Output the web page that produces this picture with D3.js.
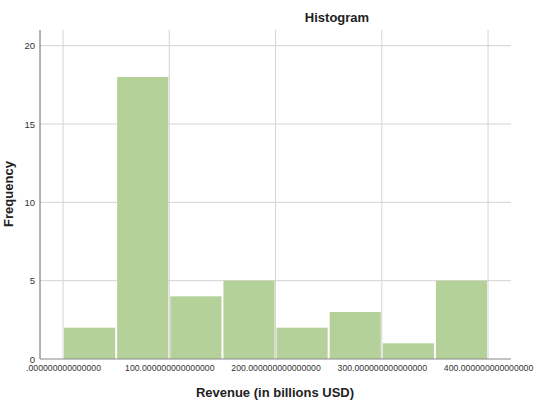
<!DOCTYPE html>
<html><head><meta charset="utf-8">
<script src="https://cdn.jsdelivr.net/npm/d3@7"></script>
<style>body{margin:0;background:#fff;} text{font-family:Arial,"Liberation Sans",sans-serif;}</style>
</head><body>
<svg id="c" width="536" height="412"></svg>
<script>
const binStarts = [0, 50, 100, 150, 200, 250, 300, 350];
const binWidth = 50;
const counts = [2, 18, 4, 5, 2, 3, 1, 5];
const xTicks = [0, 100, 200, 300, 400];
const xTickLabels = [".000000000000000", "100.000000000000000", "200.000000000000000", "300.000000000000000", "400.000000000000000"];
const yTicks = [0, 5, 10, 15, 20];

const svg = d3.select("#c");
const L = 40, R = 511, T = 30, B = 359;
const x = d3.scaleLinear().domain([-21.7, 421.6]).range([L, R]);
const y = d3.scaleLinear().domain([0, 21]).range([B, T]);

// grid
svg.append("g").selectAll("line").data(yTicks.filter(d => d > 0)).join("line")
  .attr("x1", L).attr("x2", R).attr("y1", d => y(d)).attr("y2", d => y(d))
  .attr("stroke", "#d4d4d4").attr("stroke-width", 1);
svg.append("g").selectAll("line").data(xTicks).join("line")
  .attr("x1", d => x(d)).attr("x2", d => x(d)).attr("y1", T).attr("y2", B)
  .attr("stroke", "#d4d4d4").attr("stroke-width", 1);

// bars
svg.append("g").selectAll("rect").data(binStarts).join("rect")
  .attr("x", d => x(d) + 1)
  .attr("width", d => x(d + binWidth) - x(d) - 2)
  .attr("y", (d, i) => y(counts[i]))
  .attr("height", (d, i) => y(0) - y(counts[i]))
  .attr("fill", "#b3d199");

// axes
svg.append("line").attr("x1", L).attr("x2", L).attr("y1", T).attr("y2", B).attr("stroke", "#666").attr("stroke-width", 1);
svg.append("line").attr("x1", L).attr("x2", R).attr("y1", B).attr("y2", B).attr("stroke", "#888").attr("stroke-width", 1);

const yAxis = svg.append("g").attr("transform", `translate(${L},0)`)
  .call(d3.axisLeft(y).tickValues(yTicks).tickSize(0).tickPadding(5).tickFormat(d3.format("d")));
yAxis.select(".domain").remove();
yAxis.selectAll("text").attr("font-size", 9.5).attr("fill", "#333").style("font-family", "Arial,'Liberation Sans',sans-serif");

const xAxis = svg.append("g").attr("transform", `translate(0,${B})`)
  .call(d3.axisBottom(x).tickValues(xTicks).tickSize(0).tickPadding(6).tickFormat((d, i) => xTickLabels[i]));
xAxis.select(".domain").remove();
xAxis.selectAll("text").attr("font-size", 8.7).attr("fill", "#333").style("font-family", "Arial,'Liberation Sans',sans-serif");

// titles
svg.append("text").attr("x", 337).attr("y", 22).attr("text-anchor", "middle")
  .attr("font-size", 13).attr("font-weight", "bold").attr("fill", "#222").text("Histogram");
svg.append("text").attr("x", 275).attr("y", 397).attr("text-anchor", "middle")
  .attr("font-size", 13).attr("font-weight", "bold").attr("fill", "#222").text("Revenue (in billions USD)");
svg.append("text").attr("transform", "translate(13,194) rotate(-90)").attr("text-anchor", "middle")
  .attr("font-size", 13).attr("font-weight", "bold").attr("fill", "#222").text("Frequency");
</script>
</body></html>
